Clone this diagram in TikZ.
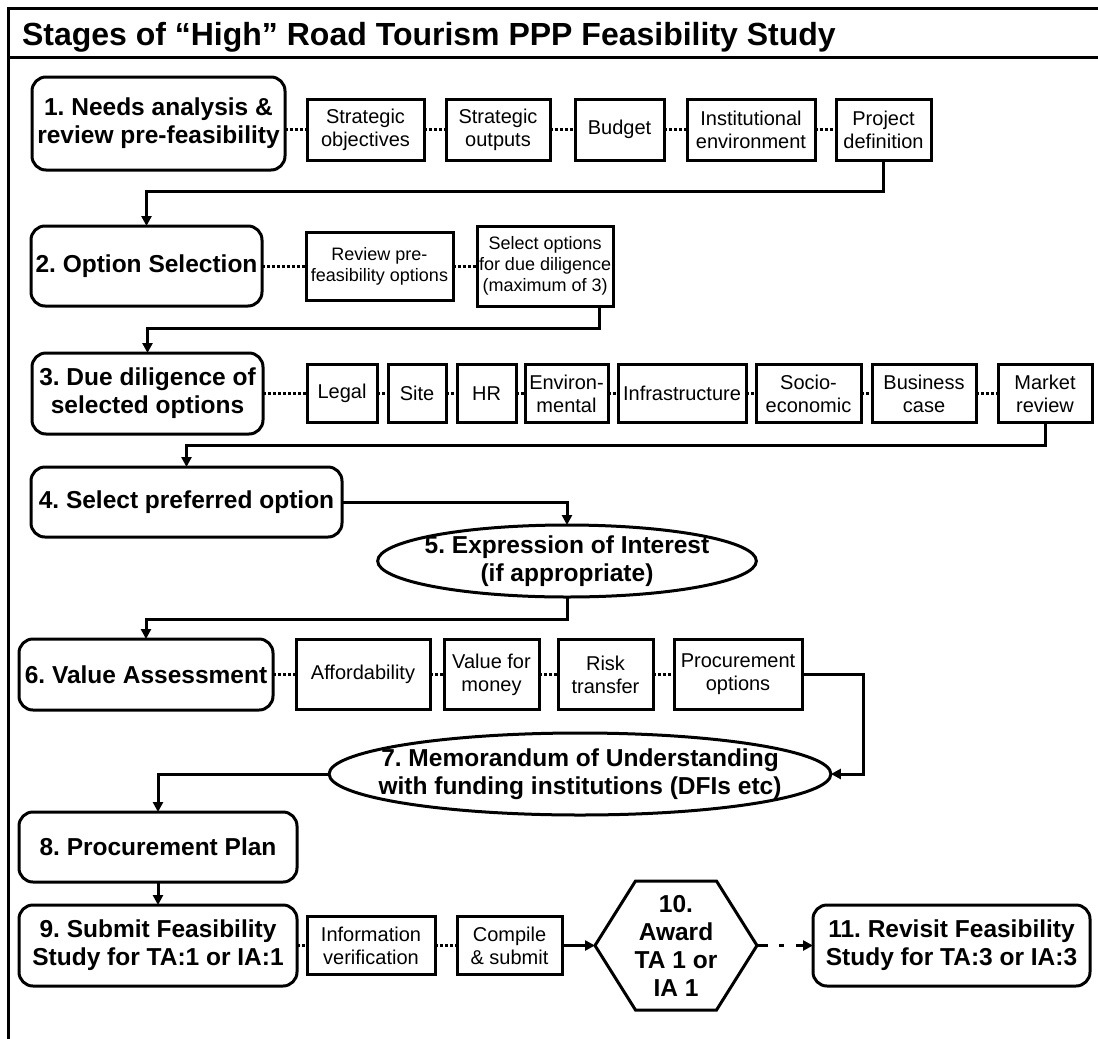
\documentclass[tikz,border=0pt]{standalone}
\usepackage{fontspec}
\setmainfont{Liberation Sans}
\frenchspacing
\usetikzlibrary{arrows.meta, positioning, calc, shapes.geometric}
\tikzset{every node/.append style={align=center, inner sep=1pt, outer sep=0pt}}

\begin{document}
\begin{tikzpicture}[x=0.5pt, y=-0.5pt, line width=1.5pt, node distance=11pt,
    st/.style={rectangle, rounded corners=7pt, draw, font=\fontsize{12.25}{14}\selectfont\bfseries},
    sb/.style={rectangle, draw, font=\fontsize{10}{11.5}\selectfont},
    ov/.style={ellipse, draw, inner ysep=0pt, font=\fontsize{12.25}{14}\selectfont\bfseries},
    hx/.style={rectangle, font=\fontsize{12.25}{14}\selectfont\bfseries, minimum width=81pt, minimum height=64.5pt},
    a/.style={-{Triangle[length=5pt, width=5pt]}},
    dl/.style={dash pattern=on 1.5pt off 1pt}]
\useasboundingbox (0,0) rectangle (1098,1039);
% frame and title
\draw (8,1039) -- (8,8) -- (1098,8);
\draw (8,57) -- (1098,57);
\node[anchor=base west, font=\fontsize{16}{19}\selectfont\bfseries] (title) at (20,45)
    {Stages of “High” Road Tourism PPP Feasibility Study};

% stage 1
\node[st, minimum width=126.5pt, minimum height=46.5pt] (n1) at (158.5,123.5) {1. Needs analysis \&\\review pre-feasibility};
\node[sb, minimum width=58.5pt, minimum height=30.5pt, right=of n1, yshift=-3pt] (obj) {Strategic\\objectives};
\node[sb, minimum width=52pt, minimum height=30.5pt, right=of obj] (outp) {Strategic\\outputs};
\node[sb, minimum width=44.5pt, minimum height=30.5pt, right=12.5pt of outp] (bud) {Budget};
\node[sb, minimum width=64pt, minimum height=30.5pt, right=11.5pt of bud] (inst) {Institutional\\environment};
\node[sb, minimum width=47.5pt, minimum height=30.5pt, right=10.5pt of inst] (pdef) {Project\\definition};

% stage 2
\node[st, minimum width=115.5pt, minimum height=40pt] (n2) at (146.5,266) {2. Option Selection};
\node[sb, font=\fontsize{9}{10.5}\selectfont, minimum width=73.5pt, minimum height=34pt, right=22pt of n2] (rev) {Review pre-\\feasibility options};
\node[sb, font=\fontsize{9}{10.5}\selectfont, minimum width=67.5pt, minimum height=40pt, right=12pt of rev] (sel) {Select options\\for due diligence\\(maximum of 3)};

% stage 3
\node[st, minimum width=115.5pt, minimum height=40.5pt] (n3) at (147.5,393.5) {3. Due diligence of\\selected options};
\node[sb, minimum width=35pt, minimum height=29pt, right=22pt of n3] (leg) {Legal};
\node[sb, minimum width=29pt, minimum height=29pt, right=5.5pt of leg] (site) {Site};
\node[sb, minimum width=29.5pt, minimum height=29pt, right=5.5pt of site] (hr) {HR};
\node[sb, minimum width=41.5pt, minimum height=29pt, right=4.5pt of hr] (env) {Environ-\\mental};
\node[sb, minimum width=64pt, minimum height=29pt, right=5pt of env] (infra) {Infrastructure};
\node[sb, minimum width=52.5pt, minimum height=29pt, right=5pt of infra] (soc) {Socio-\\economic};
\node[sb, minimum width=52pt, minimum height=29pt, right=5.5pt of soc] (bus) {Business\\case};
\node[sb, minimum width=47pt, minimum height=29pt, right=of bus] (mkt) {Market\\review};

% stages 4 and 5
\node[st, minimum width=155.5pt, minimum height=35pt] (n4) at (186.5,502) {4. Select preferred option};
\node[ov, inner xsep=-4.2pt, minimum height=36pt] (eoi) at (567,561) {5. Expression of Interest\\(if appropriate)};

% stage 6
\node[st, minimum width=127pt, minimum height=35.5pt] (n6) at (146,674.5) {6. Value Assessment};
\node[sb, minimum width=67pt, minimum height=35pt, right=11.5pt of n6] (aff) {Affordability};
\node[sb, minimum width=47.5pt, minimum height=35pt, right=7pt of aff] (vfm) {Value for\\money};
\node[sb, minimum width=47.5pt, minimum height=35pt, right=9.5pt of vfm] (risk) {Risk\\transfer};
\node[sb, minimum width=64pt, minimum height=35pt, right=10.5pt of risk] (proc) {Procurement\\options};

% stage 7
\node[ov, inner xsep=-12pt, minimum height=41pt] (mou) at (580,774) {7. Memorandum of Understanding\\with funding institutions (DFIs etc)};

% stages 8 to 11
\node[st, minimum width=139pt, minimum height=35pt] (n8) at (158,847) {8. Procurement Plan};
\node[st, minimum width=139pt, minimum height=40.5pt] (n9) at (158,945.5) {9. Submit Feasibility\\Study for TA:1 or IA:1};
\node[sb, minimum width=64pt, minimum height=29pt, right=5pt of n9] (info) {Information\\verification};
\node[sb, minimum width=52.5pt, minimum height=29pt, right=of info] (comp) {Compile\\\& submit};
\node[hx, right=16.5pt of comp] (aw) {10.\\Award\\TA 1 or\\IA 1};
\draw (aw.west) -- ([xshift=20.25pt]aw.north west) -- ([xshift=-20.25pt]aw.north east)
   -- (aw.east) -- ([xshift=-20.25pt]aw.south east) -- ([xshift=20.25pt]aw.south west) -- cycle;
\node[st, minimum width=138.5pt, minimum height=40.5pt, right=28pt of aw] (n11) {11. Revisit Feasibility\\Study for TA:3 or IA:3};

% dotted links
\draw[dl] (obj.west -| n1.east) -- (obj);
\foreach \p/\q in {obj/outp, outp/bud, bud/inst, inst/pdef, n2/rev, rev/sel,
    n3/leg, leg/site, site/hr, hr/env, env/infra, infra/soc, soc/bus, bus/mkt,
    n6/aff, aff/vfm, vfm/risk, risk/proc, n9/info, info/comp}
  \draw[dl] (\p) -- (\q);

% flow
\draw[a] (pdef.south) -- ++(0pt,-15.5pt) -| (n2.north);
\draw[a] ([xshift=-7pt]sel.south east) -- ++(0pt,-11pt) -| (n3.north);
\draw[a] (mkt.south) -- ++(0pt,-11.5pt) -| (n4.north);
\draw[a] (n4.east) -| (eoi.north);
\draw[a] (eoi.south) -- ++(0pt,-11pt) -| (n6.north);
\draw[a] (proc.east) -- ++(30.5pt,0pt) |- (mou.east);
\draw[a] (mou.west) -| (n8.north);
\draw[a] (n8) -- (n9);
\draw[a] (comp) -- (aw.west);
\draw[a, dash pattern=on 5.5pt off 5.5pt on 2.5pt off 6pt] (aw.east) -- (n11);
\end{tikzpicture}
\end{document}
